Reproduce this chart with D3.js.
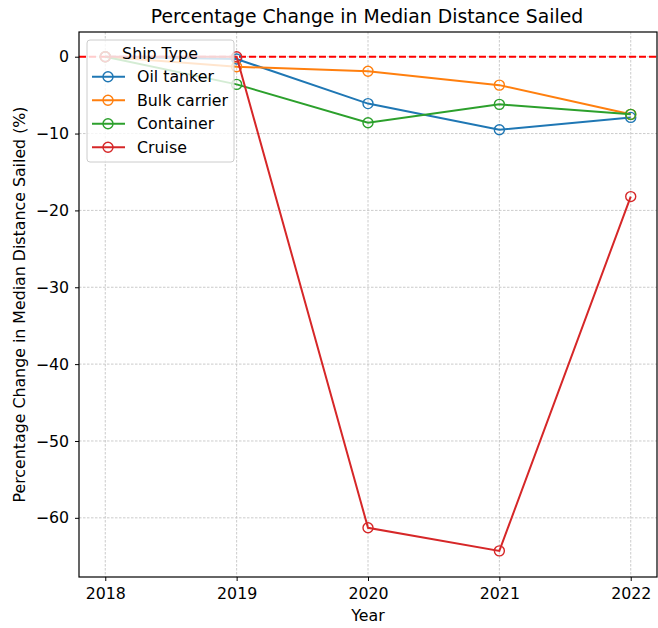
<!DOCTYPE html>
<html>
<head>
<meta charset="utf-8">
<script src="https://cdn.jsdelivr.net/npm/d3@7"></script>
<style>
  body { margin: 0; background: #fff; }
  svg text { font-family: "DejaVu Sans", sans-serif; fill: #000; }
</style>
</head>
<body>
<svg id="chart" width="658" height="628"></svg>
<script>
const years = [2018, 2019, 2020, 2021, 2022];
const seriesNames = ["Oil tanker", "Bulk carrier", "Container", "Cruise"];
const oilTanker = [0, -0.3, -6.1, -9.5, -7.9];
const bulkCarrier = [0, -1.3, -1.9, -3.7, -7.5];
const container = [0, -3.6, -8.6, -6.2, -7.5];
const cruise = [0, 0, -61.3, -64.3, -18.2];
const yTicks = [0, -10, -20, -30, -40, -50, -60];
const colors = ["#1f77b4", "#ff7f0e", "#2ca02c", "#d62728"];

const seriesValues = [oilTanker, bulkCarrier, container, cruise];
const series = seriesNames.map((name, i) => ({
  name, color: colors[i],
  points: years.map((y, j) => ({ year: y, value: seriesValues[i][j] }))
}));

const svg = d3.select("#chart");
const plotLeft = 79, plotRight = 657, plotTop = 32, plotBottom = 577;
const x = d3.scaleLinear().domain([2017.8, 2022.2]).range([plotLeft, plotRight]);
const y = d3.scaleLinear().domain([3.215, -67.7]).range([plotTop, plotBottom]);

// grid
const grid = svg.append("g").attr("stroke", "#b0b0b0").attr("stroke-width", 0.8)
  .attr("stroke-dasharray", "2.5,1.5").attr("opacity", 0.8);
years.forEach(v => grid.append("line").attr("x1", x(v)).attr("x2", x(v))
  .attr("y1", plotTop).attr("y2", plotBottom));
yTicks.forEach(v => grid.append("line").attr("y1", y(v)).attr("y2", y(v))
  .attr("x1", plotLeft).attr("x2", plotRight));

// zero reference line
svg.append("line").attr("x1", plotLeft).attr("x2", plotRight)
  .attr("y1", y(0)).attr("y2", y(0))
  .attr("stroke", "#ff0000").attr("stroke-width", 2).attr("stroke-dasharray", "7,3");

// series lines + open markers
const line = d3.line().x(d => x(d.year)).y(d => y(d.value));
series.forEach(s => {
  const g = svg.append("g");
  g.append("path").datum(s.points).attr("d", line)
    .attr("fill", "none").attr("stroke", s.color).attr("stroke-width", 2);
  g.selectAll("circle").data(s.points).join("circle")
    .attr("cx", d => x(d.year)).attr("cy", d => y(d.value)).attr("r", 5)
    .attr("fill", "none").attr("stroke", s.color).attr("stroke-width", 1.4);
});

// axes
const xAxis = d3.axisBottom(x).tickValues(years).tickFormat(d3.format("d")).tickSize(4).tickPadding(7);
const yAxis = d3.axisLeft(y).tickValues(yTicks).tickFormat(d => d < 0 ? "\u2212" + Math.abs(d) : d).tickSize(4).tickPadding(6);
const gx = svg.append("g").attr("transform", `translate(0,${plotBottom})`).call(xAxis);
const gy = svg.append("g").attr("transform", `translate(${plotLeft},0)`).call(yAxis);
[gx, gy].forEach(g => {
  g.select(".domain").remove();
  g.selectAll("text").attr("font-size", 15.8).attr("fill", "#000").style("font-family", "DejaVu Sans, sans-serif");
  g.selectAll("line").attr("stroke", "#000").attr("stroke-width", 1);
});

// frame
svg.append("rect").attr("x", plotLeft).attr("y", plotTop)
  .attr("width", plotRight - plotLeft).attr("height", plotBottom - plotTop)
  .attr("fill", "none").attr("stroke", "#000").attr("stroke-width", 1.2);

// titles
svg.append("text").attr("x", (plotLeft + plotRight) / 2 - 1).attr("y", 23)
  .attr("text-anchor", "middle").attr("font-size", 18.8).text("Percentage Change in Median Distance Sailed");
svg.append("text").attr("x", (plotLeft + plotRight) / 2).attr("y", 621)
  .attr("text-anchor", "middle").attr("font-size", 15.8).text("Year");
svg.append("text").attr("transform", `translate(25,${(plotTop + plotBottom) / 2}) rotate(-90)`)
  .attr("text-anchor", "middle").attr("font-size", 15.8).text("Percentage Change in Median Distance Sailed (%)");

// legend
const lg = svg.append("g").attr("transform", "translate(87,40)");
lg.append("rect").attr("width", 147).attr("height", 122).attr("rx", 3)
  .attr("fill", "#fff").attr("fill-opacity", 0.8).attr("stroke", "#cccccc").attr("stroke-width", 1);
lg.append("text").attr("x", 73).attr("y", 19).attr("text-anchor", "middle")
  .attr("font-size", 15.8).text("Ship Type");
series.forEach((s, i) => {
  const yy = 36.7 + i * 23.5;
  lg.append("line").attr("x1", 5).attr("x2", 38).attr("y1", yy).attr("y2", yy)
    .attr("stroke", s.color).attr("stroke-width", 2);
  lg.append("circle").attr("cx", 21).attr("cy", yy).attr("r", 5)
    .attr("fill", "none").attr("stroke", s.color).attr("stroke-width", 1.4);
  lg.append("text").attr("x", 50).attr("y", yy + 5.7).attr("font-size", 15.8).text(s.name);
});
</script>
</body>
</html>
